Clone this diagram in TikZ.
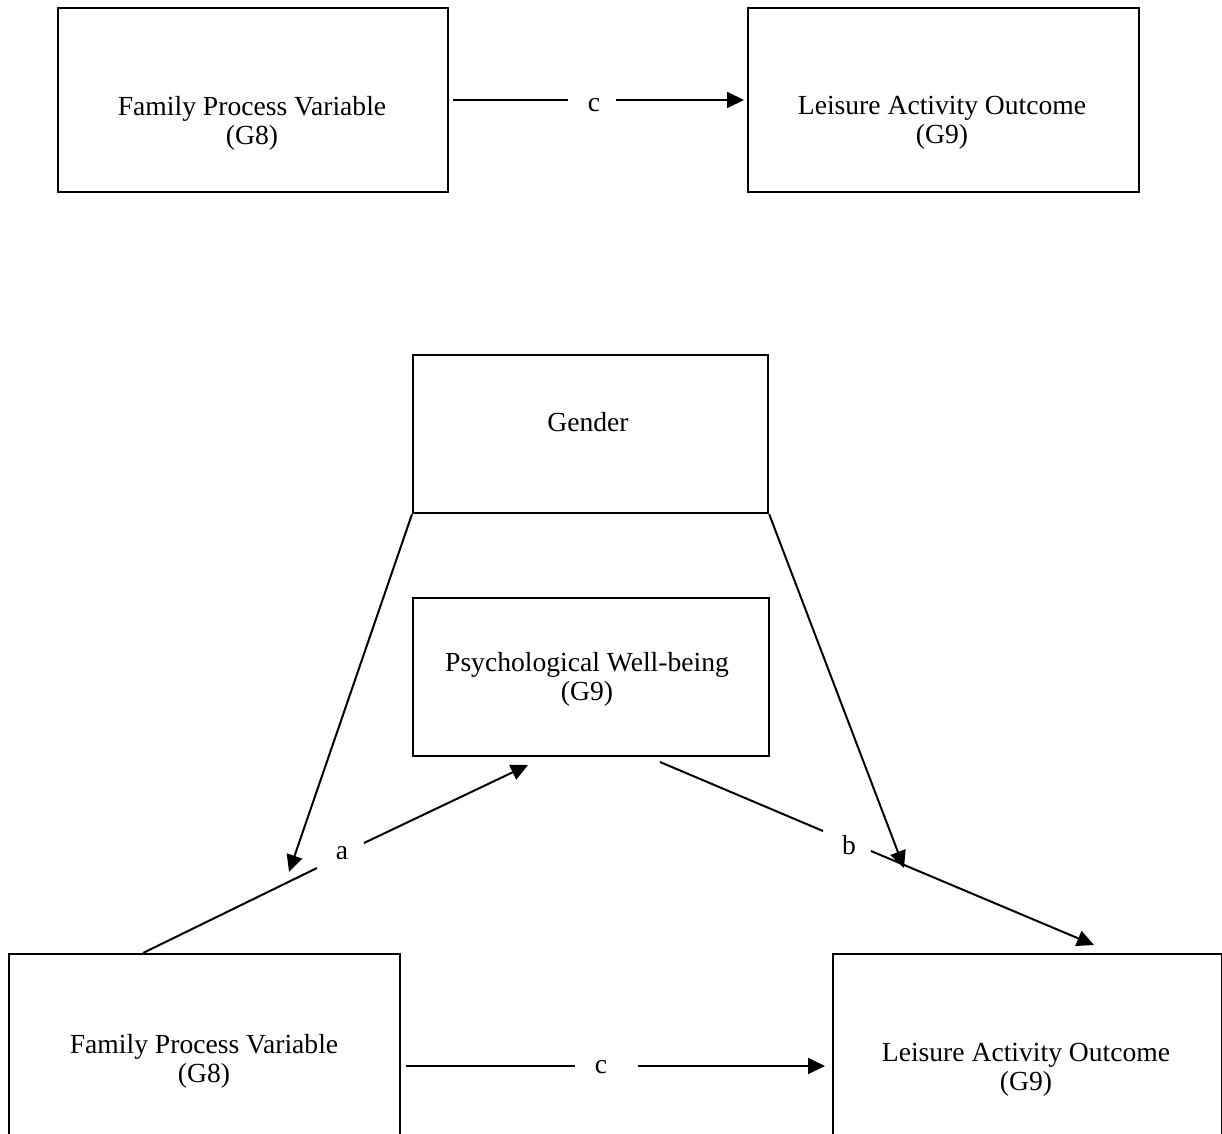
\documentclass[tikz,border=0pt]{standalone}
\usepackage{fontspec}
\setmainfont{Liberation Serif}
\usetikzlibrary{arrows.meta}
\begin{document}
\begin{tikzpicture}[x=0.5pt,y=-0.5pt,
  box/.style={draw, line width=1.1pt, rectangle, inner sep=0pt, anchor=north west},
  lbl/.style={inner sep=0pt, font=\fontsize{13.8pt}{14.5pt}\selectfont, align=center},
  conn/.style={line width=1pt},
  arr/.style={line width=1pt, -{Triangle[length=8.5pt,width=8pt]}}]
\clip (0,0) rectangle (1222,1134);
% top model
\node[box, minimum width=195pt, minimum height=92pt] (tl) at (57,7) {};
\node[box, minimum width=195.5pt, minimum height=92pt] (tr) at (747,7) {};
\node[lbl] (tlt) at (252,123) {Family Process Variable\\(G8)};
\node[lbl] (trt) at (942,123) {Leisure Activity Outcome\\(G9)};
\node[lbl] (c1) at (594,105) {c};
\coordinate (c1a) at (453,100);
\coordinate (c1b) at (568,100);
\coordinate (c1c) at (616,100);
\coordinate (c1d) at (744,100);
\draw[conn] (c1a) -- (c1b);
\draw[arr] (c1c) -- (c1d);
% bottom model
\node[box, minimum width=177.5pt, minimum height=79pt] (gen) at (412,354) {};
\node[lbl] (gent) at (588,422) {Gender};
\node[box, minimum width=178pt, minimum height=79pt] (psy) at (412,597) {};
\node[lbl] (psyt) at (587,679) {Psychological Well-being\\(G9)};
\node[box, minimum width=195.5pt, minimum height=150pt] (bl) at (8,953) {};
\node[box, minimum width=194.5pt, minimum height=150pt] (br) at (832,953) {};
\node[lbl] (blt) at (204,1061) {Family Process Variable\\(G8)};
\node[lbl] (brt) at (1026,1070) {Leisure Activity Outcome\\(G9)};
% gender arrows
\coordinate (gl) at (289,872);
\coordinate (gr) at (904,868);
\draw[arr] (gen.south west) -- (gl);
\draw[arr] (gen.south east) -- (gr);
% path a
\node[lbl] (la) at (342,853) {a};
\coordinate (a0) at (143,953);
\coordinate (a1) at (317,868);
\coordinate (a2) at (364,843);
\coordinate (a3) at (528,765);
\draw[conn] (a0) -- (a1);
\draw[arr] (a2) -- (a3);
% path b
\node[lbl] (lb) at (849,845) {b};
\coordinate (b0) at (660,762);
\coordinate (b1) at (823,831);
\coordinate (b2) at (871,851);
\coordinate (b3) at (1094,945);
\draw[conn] (b0) -- (b1);
\draw[arr] (b2) -- (b3);
% path c
\node[lbl] (c2) at (601,1067) {c};
\coordinate (c2a) at (406,1066);
\coordinate (c2b) at (575,1066);
\coordinate (c2c) at (638,1066);
\coordinate (c2d) at (825,1066);
\draw[conn] (c2a) -- (c2b);
\draw[arr] (c2c) -- (c2d);
\end{tikzpicture}
\end{document}
